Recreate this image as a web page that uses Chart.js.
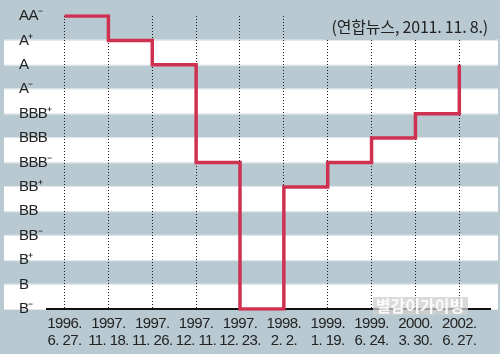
<!DOCTYPE html>
<html>
<head>
<meta charset="utf-8">
<script src="https://cdn.jsdelivr.net/npm/chart.js@4/dist/chart.umd.min.js"></script>
<style>
  html, body { margin: 0; padding: 0; background: #b8c9d1; }
  #wrap { width: 500px; height: 354px; }
</style>
</head>
<body>
<div id="wrap"><canvas id="chart" width="500" height="354"></canvas></div>
<script>
// rating ladder, top to bottom
const ratingScale = ['AA⁻', 'A⁺', 'A', 'A⁻', 'BBB⁺', 'BBB', 'BBB⁻', 'BB⁺', 'BB', 'BB⁻', 'B⁺', 'B', 'B⁻'];
// change dates (two-line tick labels)
const dateYears = ['1996.', '1997.', '1997.', '1997.', '1997.', '1998.', '1999.', '1999.', '2000.', '2002.'];
const dateDays = ['6. 27.', '11. 18.', '11. 26.', '12. 11.', '12. 23.', '2. 2.', '1. 19.', '6. 24.', '3. 30.', '6. 27.'];
// rating given on each date
const ratings = ['AA⁻', 'A⁺', 'A', 'BBB⁻', 'B⁻', 'BB⁺', 'BBB⁻', 'BBB', 'BBB⁺', 'A'];

const sourceNote = '(연합뉴스, 2011. 11. 8.)';
const watermark = '별감이가이빙';

const BG = '#b8c9d1';
const LINE_RED = '#cf3150';

// striped background behind the plot
const bandsPlugin = {
    id: 'bands',
    afterLayout(chart) {
        // let the y labels spill past the plot edge like the original
        chart.scales.y.right += 14;
    },
    beforeDraw(chart) {
        const { ctx, scales: { y } } = chart;
        ctx.save();
        ctx.fillStyle = BG;
        ctx.fillRect(0, 0, chart.width, chart.height);
        for (let i = 1; i < ratingScale.length; i += 2) {
            const top = y.getPixelForValue(i);
            const bottom = y.getPixelForValue(i + 1);
            ctx.fillStyle = '#ffffff';
            ctx.fillRect(4, top, 494, bottom - top);
            ctx.fillStyle = '#e3eaee';
            ctx.fillRect(4, top - 1, 494, 1);
            ctx.fillRect(4, bottom, 494, 1);
        }
        ctx.restore();
        ctx.letterSpacing = '-0.6px';
    },
    afterDraw(chart) {
        const { ctx } = chart;
        ctx.save();
        // source note sits on a patch that hides the dotted lines
        ctx.fillStyle = BG;
        ctx.fillRect(324, 13, 172, 27);
        ctx.fillStyle = '#222';
        ctx.letterSpacing = '-0.2px';
        ctx.font = '16px "Noto Sans CJK KR", "Liberation Sans", sans-serif';
        ctx.textAlign = 'right';
        ctx.textBaseline = 'middle';
        ctx.fillText(sourceNote, 488, 27);

        // watermark
        ctx.fillStyle = 'rgba(205,205,205,0.75)';
        ctx.fillRect(373, 297, 95, 18);
        ctx.fillStyle = 'rgba(255,255,255,0.9)';
        ctx.letterSpacing = '0px';
        ctx.font = 'bold 16px "Noto Sans CJK KR", sans-serif';
        ctx.textAlign = 'center';
        ctx.fillText(watermark, 420, 306);
        ctx.restore();
    }
};

new Chart(document.getElementById('chart'), {
    type: 'line',
    data: {
        datasets: [{
            data: ratings.map((r, i) => ({ x: i, y: r })),
            stepped: true,
            borderColor: LINE_RED,
            borderWidth: 3.5,
            pointRadius: 0,
            fill: false
        }]
    },
    options: {
        responsive: false,
        animation: false,
        layout: { padding: { top: 16, left: 19, right: 10, bottom: 0 } },
        plugins: {
            legend: { display: false },
            tooltip: { enabled: false }
        },
        scales: {
            x: {
                type: 'linear',
                min: -0.4,
                max: 9.7,
                afterBuildTicks: scale => {
                    scale.ticks = dateYears.map((_, i) => ({ value: i }));
                },
                afterFit: scale => { scale.height = 45; },
                grid: {
                    color: '#1a1a1a',
                    lineWidth: 1,
                    drawTicks: false
                },
                border: { display: true, color: '#111', width: 2, dash: [1, 2] },
                ticks: {
                    autoSkip: false,
                    maxRotation: 0,
                    padding: 6,
                    color: '#222',
                    font: { family: '"Liberation Sans", Arial, sans-serif', size: 15, lineHeight: 1.15 },
                    callback: v => [dateYears[v], dateDays[v]]
                }
            },
            y: {
                type: 'category',
                labels: ratingScale,
                afterFit: scale => { scale.width = 28; },
                grid: { display: false, drawTicks: false },
                border: { display: false },
                ticks: {
                    autoSkip: false,
                    crossAlign: 'far',
                    padding: 0,
                    color: '#222',
                    font: { family: '"Liberation Sans", Arial, sans-serif', size: 15 }
                }
            }
        }
    },
    plugins: [bandsPlugin]
});
</script>
</body>
</html>
